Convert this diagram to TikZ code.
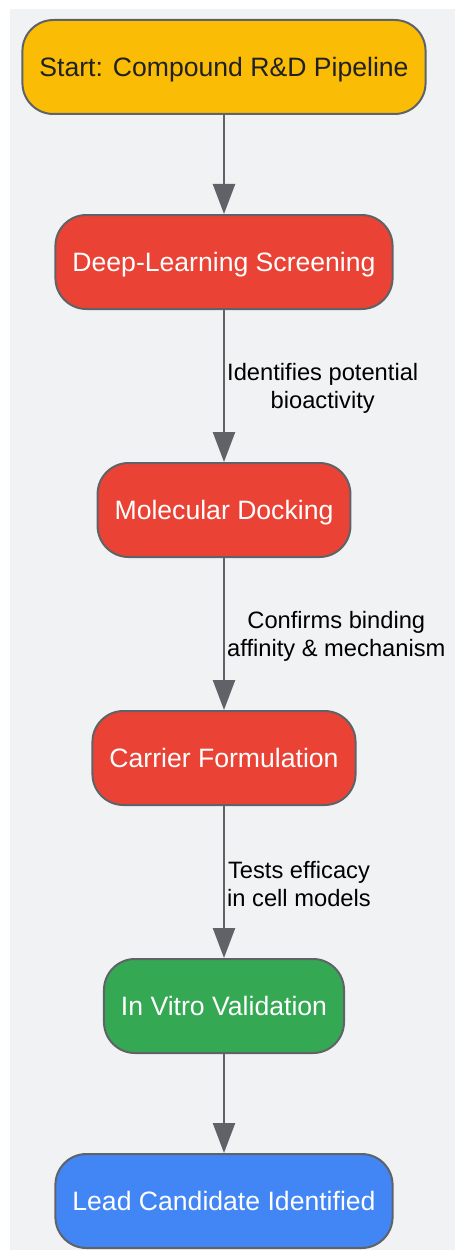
\documentclass[tikz,border=0pt]{standalone}
\usepackage{fontspec}
\setmainfont{Liberation Sans}
\usetikzlibrary{positioning, arrows.meta}
\definecolor{bggray}{HTML}{F1F2F4}
\definecolor{edgegray}{HTML}{5F6368}
\definecolor{startyellow}{HTML}{FBBC05}
\definecolor{stepred}{HTML}{EA4335}
\definecolor{stepgreen}{HTML}{34A853}
\definecolor{stepblue}{HTML}{4285F4}
\definecolor{darktext}{HTML}{202124}
\tikzset{
	->, % arcos dirigidos
	>={Triangle[width=22pt,length=30pt]}, % punta triangular gruesa
	every edge/.style={draw=edgegray, line width=2.4pt}, % conectores
	stage/.style={draw=edgegray, line width=2pt, rounded corners=31pt,
		minimum height=94pt, inner xsep=17pt, text height=19pt, text depth=0pt,
		font=\fontsize{26.6}{32}\selectfont, text=white}, % cajas
	edgelabel/.style={midway, anchor=west, align=center, inner xsep=2pt, yshift=-2pt,
		font=\fontsize{23.7}{28}\selectfont, text=black} % texto de los arcos
}

\begin{document}
\begin{tikzpicture}
				\useasboundingbox (0,0) rectangle (455pt,-1252pt);
				\fill[bggray] (10pt,-9pt) rectangle (455pt,-1250pt);
				\node[stage, fill=startyellow, text=darktext] (start) at (224pt,-67pt) {Start: Compound R\&D Pipeline};
				\node[stage, fill=stepred, below=99pt of start] (screen) {Deep-Learning Screening};
				\node[stage, fill=stepred, below=152pt of screen] (dock) {Molecular Docking};
				\node[stage, fill=stepred, below=152pt of dock] (carrier) {Carrier Formulation};
				\node[stage, fill=stepgreen, below=152pt of carrier] (vitro) {In Vitro Validation};
				\node[stage, fill=stepblue, below=99pt of vitro] (lead) {Lead Candidate Identified};
				\draw	(start) edge (screen)
						(screen) edge node[edgelabel]{Identifies potential\\bioactivity} (dock)
						(dock) edge node[edgelabel]{Confirms binding\\affinity \& mechanism} (carrier)
						(carrier) edge node[edgelabel]{Tests efficacy\\in cell models} (vitro)
						(vitro) edge (lead);
			\end{tikzpicture}
\end{document}
